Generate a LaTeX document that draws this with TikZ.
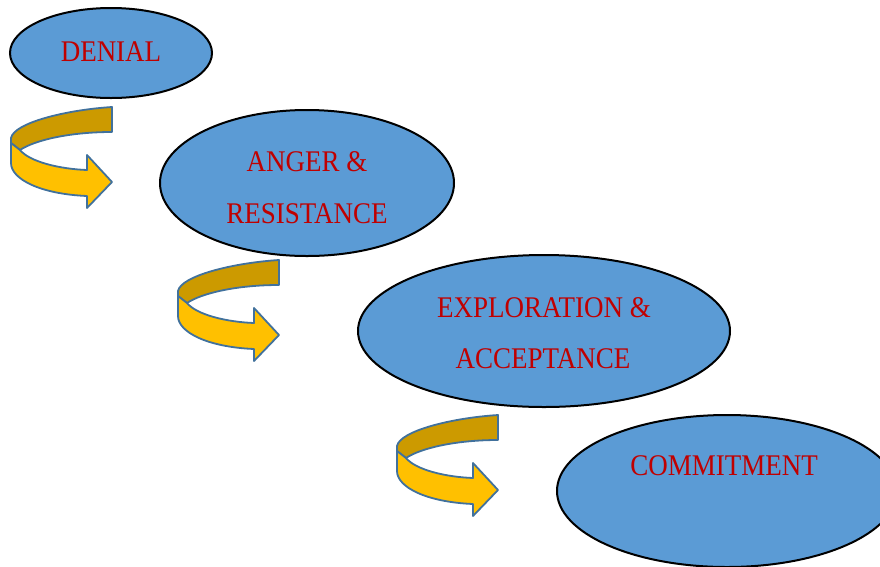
\documentclass[tikz,border=0pt]{standalone}
\usepackage{fontspec}
\setmainfont[FakeStretch=0.9]{Liberation Serif}
\usetikzlibrary{shapes.geometric}
\definecolor{stageblue}{HTML}{5B9BD5}
\definecolor{stagered}{HTML}{C00000}
\definecolor{bandback}{HTML}{CC9A00}
\definecolor{bandfront}{HTML}{FFC000}
\definecolor{bandline}{HTML}{41719C}
\tikzset{
  stage/.style={ellipse, draw=black, line width=2pt, fill=stageblue, inner sep=0pt},
  stagetext/.style={anchor=base, text=stagered, inner sep=0pt, font=\fontsize{30}{30}\selectfont},
  band/.style={draw=bandline, line width=1.8pt, line join=round},
  turnarrow/.pic={
    % back (darker) half of the ribbon
    \path[band, fill=bandback]
      (102,0) .. controls (55,3) and (4,16) .. (1,31)
      -- (1,36) -- (10,43)
      .. controls (25,33) and (60,25) .. (102,25) -- cycle;
    % front half of the ribbon ending in the arrow head
    \path[band, fill=bandfront]
      (1,36) -- (1,56)
      .. controls (1,72) and (30,87) .. (77,89)
      -- (77,101) -- (102,75) -- (77,48) -- (77,63)
      .. controls (50,62) and (20,55) .. (10,43) -- cycle;
  }
}
\begin{document}
\begin{tikzpicture}[x=1pt, y=-1pt]
  \useasboundingbox (0,0) rectangle (880,566);

  % stages
  \node[stage, minimum width=202pt, minimum height=90pt]  (denial)  at (111,53)  {};
  \node[stage, minimum width=294pt, minimum height=146pt] (anger)   at (307,183) {};
  \node[stage, minimum width=372pt, minimum height=152pt] (explore) at (544,331) {};
  \node[stage, minimum width=340pt, minimum height=152pt] (commit)  at (727,491) {};

  % stage labels
  \node[stagetext] (tdenial)  at (111,61)  {DENIAL};
  \node[stagetext] (tanger1)  at (307,171) {ANGER \&};
  \node[stagetext] (tanger2)  at (307,223) {RESISTANCE};
  \node[stagetext] (texplo1)  at (544,317) {EXPLORATION \&};
  \node[stagetext] (texplo2)  at (543,368) {ACCEPTANCE};
  \node[stagetext] (tcommit)  at (724,475) {COMMITMENT};

  % curved arrows between the stages
  \pic (turn1) at (10,107)  {turnarrow};
  \pic (turn2) at (177,260) {turnarrow};
  \pic (turn3) at (396,415) {turnarrow};
\end{tikzpicture}
\end{document}
